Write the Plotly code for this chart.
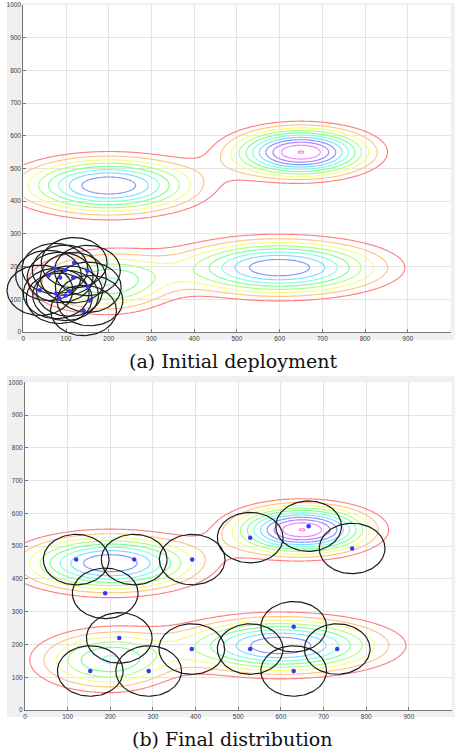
import numpy as np
import plotly.graph_objects as go
import colorsys

W, H = 455, 753

# ---- field model: elliptical bumps ----
peak_x = [200, 650, 598, 195]
peak_y = [448, 550, 197, 152]
peak_amp = [9.95, 12.02, 9.9, 6.85]
peak_sx_left = [140, 107, 155, 117]
peak_sx_right = [140, 107, 165, 100]
peak_sy = [58, 50, 57, 63]
level_start, level_end, level_step = 2, 12, 1

# ---- sensor positions ----
init_x = [119, 74, 98, 150, 59, 86, 117, 152, 39, 108, 77, 99, 84, 156, 141]
init_y = [212, 194, 189, 188, 173, 167, 166, 137, 127.5, 125, 118, 112, 103, 96, 66]
final_x = [665, 528, 767, 120, 256, 392, 188, 221, 153, 290, 391, 528, 630, 630, 732]
final_y = [561, 526, 493, 459, 459, 459, 356, 220, 119, 119, 186, 186, 254, 119, 186]
sensor_radius = 77

ticks = list(range(0, 1001, 100))
captions = ["(a) Initial deployment", "(b) Final distribution"]

# ---- field on grid ----
gx = np.linspace(0, 1000, 251)
gy = np.linspace(0, 1000, 251)
XX, YY = np.meshgrid(gx, gy)
Z = np.zeros_like(XX)
for px_, py_, a, sl, sr, sy in zip(peak_x, peak_y, peak_amp, peak_sx_left, peak_sx_right, peak_sy):
    sx = np.where(XX < px_, sl, sr)
    Z += a * np.exp(-((XX - px_) ** 2 / (2 * sx ** 2) + (YY - py_) ** 2 / (2 * sy ** 2)))

# hsv(11)-like pale colours for the contour lines
nlev = int(round((level_end - level_start) / level_step)) + 1
cs = []
for k in range(nlev):
    r, g, b = colorsys.hsv_to_rgb(k / nlev, 1.0, 1.0)
    m = 0.5
    r, g, b = [int(round(255 * (c * (1 - m) + m))) for c in (r, g, b)]
    cs.append([k / (nlev - 1), f"rgb({r},{g},{b})"])

# ---- pixel geometry of the two panels ----
panels = [
    dict(x0=23.3, x1=450.5, ytop=5.0, ybot=332.0, gray=(7, 3, 455, 340), ext=(1, 0, 455, 345),
         cap_y=361, sx=init_x, sy=init_y),
    dict(x0=25.0, x1=451.5, ytop=382.3, ybot=710.0, gray=(7, 376, 455, 717), ext=(1, 372, 455, 720),
         cap_y=739, sx=final_x, sy=final_y),
]

fig = go.Figure()
layout = dict(
    width=W, height=H, margin=dict(l=0, r=0, t=0, b=0),
    paper_bgcolor="white", plot_bgcolor="rgba(0,0,0,0)",
    showlegend=False, template="none", shapes=[], annotations=[],
)

theta = np.linspace(0, 2 * np.pi, 121)
for i, p in enumerate(panels):
    main_x = "x" if i == 0 else "x2"
    main_y = "y" if i == 0 else "y2"
    ext_x = "x3" if i == 0 else "x4"
    ext_y = "y3" if i == 0 else "y4"
    kx = (p["x1"] - p["x0"]) / 1000.0
    ky = (p["ybot"] - p["ytop"]) / 1000.0

    def fx(px):
        return px / W

    def fy(py):
        return 1 - py / H

    axstyle = dict(
        range=[0, 1000], tickvals=ticks, showgrid=True, gridcolor="#e4e4e4", gridwidth=1,
        showline=True, linecolor="#777777", linewidth=1, ticks="inside", ticklen=3,
        tickcolor="#777777", tickfont=dict(family="Liberation Sans", size=6.5, color="#404040"),
        zeroline=False, fixedrange=True,
    )
    layout["xaxis" + ("" if i == 0 else "2")] = dict(axstyle, domain=[fx(p["x0"]), fx(p["x1"])],
                                                     anchor=main_y)
    layout["yaxis" + ("" if i == 0 else "2")] = dict(axstyle, domain=[fy(p["ybot"]), fy(p["ytop"])],
                                                     anchor=main_x)
    ex0, ey0, ex1, ey1 = p["ext"]
    layout["xaxis" + ("3" if i == 0 else "4")] = dict(
        domain=[fx(ex0), fx(ex1)], range=[(ex0 - p["x0"]) / kx, (ex1 - p["x0"]) / kx],
        visible=False, anchor=ext_y, fixedrange=True)
    layout["yaxis" + ("3" if i == 0 else "4")] = dict(
        domain=[fy(ey1), fy(ey0)], range=[(p["ybot"] - ey1) / ky, (p["ybot"] - ey0) / ky],
        visible=False, anchor=ext_x, fixedrange=True)

    gx0, gy0, gx1, gy1 = p["gray"]
    layout["shapes"].append(dict(type="rect", xref="paper", yref="paper", x0=fx(gx0), x1=fx(gx1),
                                 y0=fy(gy1), y1=fy(gy0), fillcolor="#f0f0f0", line=dict(width=0),
                                 layer="below"))
    layout["shapes"].append(dict(type="rect", xref="paper", yref="paper", x0=fx(p["x0"]),
                                 x1=fx(p["x1"]), y0=fy(p["ybot"]), y1=fy(p["ytop"]),
                                 fillcolor="white", line=dict(width=0), layer="below"))

    fig.add_trace(go.Contour(
        x=gx, y=gy, z=Z, xaxis=main_x, yaxis=main_y,
        contours=dict(start=level_start, end=level_end, size=level_step, coloring="lines"),
        colorscale=cs, zmin=level_start, zmax=level_end, zauto=False, showscale=False,
        line=dict(width=1.15, smoothing=1), hoverinfo="skip",
    ))

    cx, cy = [], []
    for sx_, sy_ in zip(p["sx"], p["sy"]):
        cx += list(sx_ + sensor_radius * np.cos(theta)) + [None]
        cy += list(sy_ + sensor_radius * np.sin(theta)) + [None]
    fig.add_trace(go.Scatter(x=cx, y=cy, mode="lines", xaxis=ext_x, yaxis=ext_y,
                             line=dict(color="#1c1c1c", width=1.2), hoverinfo="skip"))
    fig.add_trace(go.Scatter(x=p["sx"], y=p["sy"], mode="markers", xaxis=ext_x, yaxis=ext_y,
                             marker=dict(color="#3535ff", size=4.5, line=dict(width=0)),
                             hoverinfo="skip"))

    layout["annotations"].append(dict(
        xref="paper", yref="paper", x=233 / W, y=fy(p["cap_y"]), text=captions[i],
        showarrow=False, xanchor="center", yanchor="middle",
        font=dict(family="DejaVu Serif", size=19, color="#111111"),
    ))

fig.update_layout(**layout)
fig.write_html("out.html", config={"displayModeBar": False},
               post_script="document.body.style.margin='0px';document.body.style.overflow='hidden';")
